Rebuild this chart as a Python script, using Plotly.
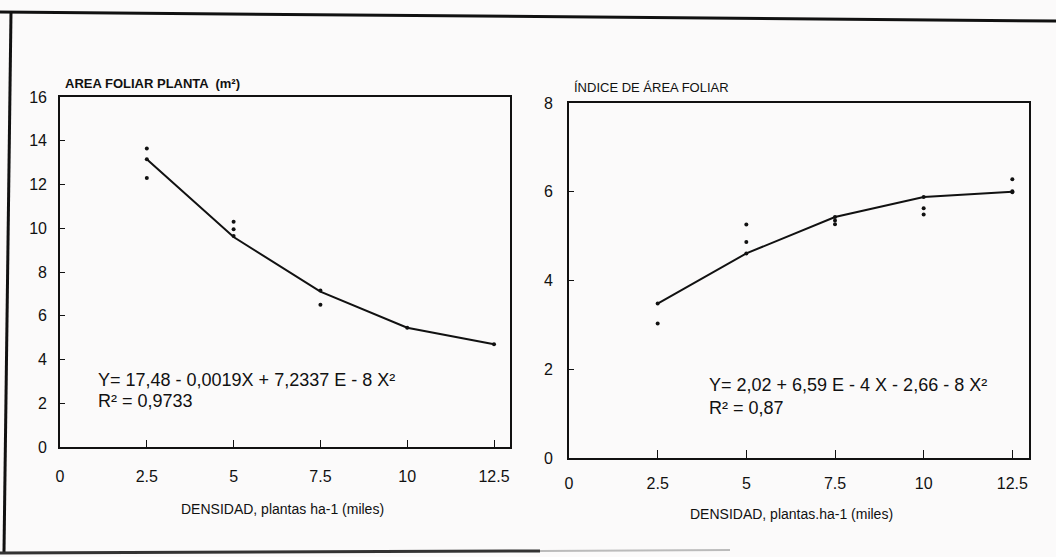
import plotly.graph_objects as go

W, H = 1056, 557

# ---- data ----
densidad = [2.5, 5, 7.5, 10, 12.5]
x_ticks = [0, 2.5, 5, 7.5, 10, 12.5]
x_ticklabels = ["0", "2.5", "5", "7.5", "10", "12.5"]

af_fit = [13.15, 9.6, 7.1, 5.45, 4.7]
af_obs_x = [2.5, 2.5, 2.5, 5, 5, 5, 7.5, 7.5, 10, 12.5]
af_obs_y = [13.65, 13.15, 12.3, 10.3, 9.95, 9.65, 7.15, 6.5, 5.45, 4.7]
af_yticks = [0, 2, 4, 6, 8, 10, 12, 14, 16]

iaf_fit = [3.48, 4.61, 5.43, 5.88, 6.0]
iaf_obs_x = [2.5, 2.5, 5, 5, 5, 7.5, 7.5, 7.5, 10, 10, 10, 12.5, 12.5, 12.5]
iaf_obs_y = [3.48, 3.03, 5.26, 4.87, 4.61, 5.43, 5.35, 5.27, 5.88, 5.63, 5.49, 6.28, 6.01, 5.99]
iaf_yticks = [0, 2, 4, 6, 8]

FONT = "Liberation Sans, Arial, sans-serif"
INK = "#111111"


def px(x):
    return x / W


def py(y):
    return 1 - y / H


fig = go.Figure()

# left panel
fig.add_trace(go.Scatter(x=densidad, y=af_fit, mode="lines",
                         line=dict(color=INK, width=2), xaxis="x", yaxis="y",
                         showlegend=False, hoverinfo="skip"))
fig.add_trace(go.Scatter(x=af_obs_x, y=af_obs_y, mode="markers",
                         marker=dict(color=INK, size=4), xaxis="x", yaxis="y",
                         showlegend=False))
# right panel
fig.add_trace(go.Scatter(x=densidad, y=iaf_fit, mode="lines",
                         line=dict(color=INK, width=2), xaxis="x2", yaxis="y2",
                         showlegend=False, hoverinfo="skip"))
fig.add_trace(go.Scatter(x=iaf_obs_x, y=iaf_obs_y, mode="markers",
                         marker=dict(color=INK, size=4), xaxis="x2", yaxis="y2",
                         showlegend=False))

axis_common = dict(showline=True, linecolor=INK, mirror=True, showgrid=False,
                   zeroline=False, automargin=False,
                   tickfont=dict(family=FONT, size=16, color=INK),
                   tickcolor=INK, fixedrange=True)

fig.update_layout(
    template="none",
    width=W, height=H, autosize=False,
    margin=dict(l=0, r=0, t=0, b=0, pad=0),
    paper_bgcolor="#fbfafa", plot_bgcolor="rgba(0,0,0,0)",
    font=dict(family=FONT, color=INK),
    xaxis=dict(domain=[px(60), px(510)], range=[0, 12.96], anchor="y",
               tickvals=x_ticks, ticktext=x_ticklabels, ticks="inside", ticklen=7,
               linewidth=1.8, ticklabelstandoff=14, **axis_common),
    yaxis=dict(domain=[py(447), py(97)], range=[0, 16], anchor="x",
               tickvals=af_yticks, ticks="inside", ticklen=5, tickwidth=1,
               linewidth=1.6, ticklabelstandoff=8, **axis_common),
    xaxis2=dict(domain=[px(569), px(1029)], range=[0, 12.97], anchor="y2",
                tickvals=x_ticks, ticktext=x_ticklabels, ticks="inside", ticklen=8,
                linewidth=1.6, ticklabelstandoff=10, **axis_common),
    yaxis2=dict(domain=[py(458), py(103)], range=[0, 8], anchor="x2",
                tickvals=iaf_yticks, ticks="inside", ticklen=5,
                linewidth=1.6, ticklabelstandoff=11, **axis_common),
)

ann = []


def text(x, y, s, size, bold=False, xanchor="left"):
    ann.append(dict(x=px(x), y=py(y), xref="paper", yref="paper", text=s,
                    showarrow=False, xanchor=xanchor, yanchor="middle",
                    font=dict(family=FONT, size=size, color=INK,
                              weight="bold" if bold else "normal")))


text(63, 83, "AREA FOLIAR PLANTA  (m²)", 13, bold=True)
text(96, 380, "Y= 17,48 - 0,0019X + 7,2337 E - 8 X²", 18)
text(96, 401, "R² = 0,9733", 18)
text(282, 509, "DENSIDAD, plantas ha-1 (miles)", 14, xanchor="center")

text(572, 88, "ÍNDICE DE ÁREA FOLIAR", 13)
text(707, 385, "Y= 2,02 + 6,59 E - 4 X - 2,66 - 8 X²", 18)
text(707, 408, "R² = 0,87", 18)
text(791, 514, "DENSIDAD, plantas.ha-1 (miles)", 14, xanchor="center")

fig.update_layout(annotations=ann)

# scanned page frame
shapes = [
    dict(type="line", xref="paper", yref="paper", x0=px(0), y0=py(12), x1=px(1056), y1=py(21),
         line=dict(color=INK, width=3)),
    dict(type="line", xref="paper", yref="paper", x0=px(11), y0=py(12), x1=px(4), y1=py(552),
         line=dict(color=INK, width=3)),
    dict(type="line", xref="paper", yref="paper", x0=px(0), y0=py(553), x1=px(540), y1=py(551),
         line=dict(color="#333333", width=3)),
    dict(type="line", xref="paper", yref="paper", x0=px(540), y0=py(551), x1=px(730), y1=py(550),
         line=dict(color="#bbbbbb", width=2)),
]
fig.update_layout(shapes=shapes)

fig.write_html("out.html", config={"displayModeBar": False},
               post_script="document.body.style.margin='0';document.body.style.overflow='hidden';")
